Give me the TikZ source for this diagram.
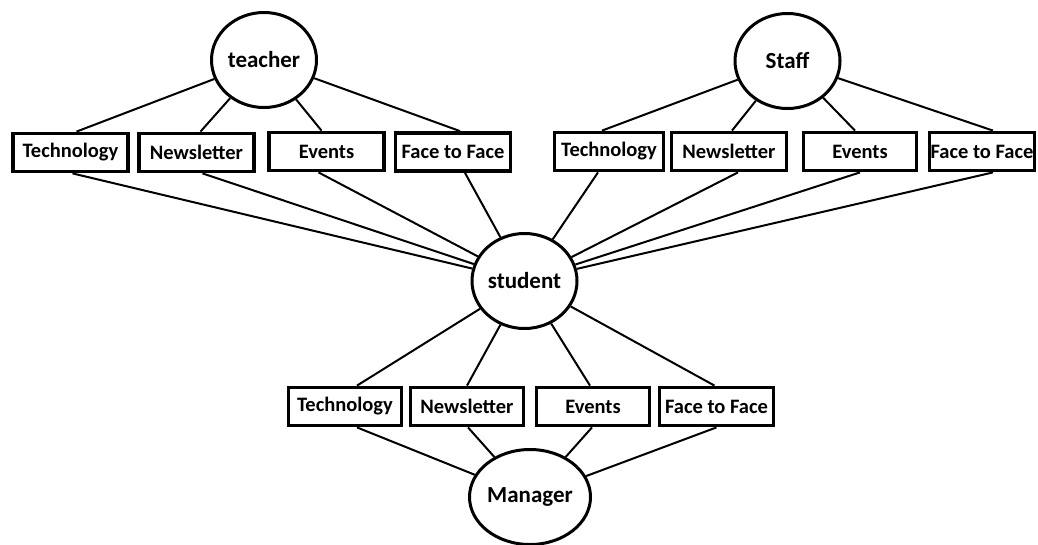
\documentclass[tikz,border=0pt]{standalone}
\usepackage{fontspec}
\setmainfont{Carlito}
\usepackage{tikz}
\usetikzlibrary{shapes.geometric,positioning}
\tikzset{
    %Define style for the people
    role/.style={
           ellipse,
           draw=black, line width=3pt,
           minimum width=105pt,
           minimum height=95pt,
           inner sep=0pt,
           font=\fontsize{23}{26}\selectfont\bfseries,
           text centered},
    %Define style for the channel boxes
    channel/.style={
           rectangle,
           draw=black, line width=3.8pt,
           minimum width=115pt,
           minimum height=38pt,
           inner sep=0pt,
           font=\fontsize{20.5}{24}\selectfont\bfseries,
           text centered},
    % Define connector style
    link/.style={
           -,
           line width=2pt}
}
\begin{document}
\begin{tikzpicture}[x=1pt,y=-1pt]
\useasboundingbox (0,0) rectangle (1038,544);
 %people
\node[role] (teacher) at (264,60) {teacher};
\node[role] (staff) at (787.5,61) {Staff};
\node[role] (student) at (524.5,281) {student};
\node[role] (manager) at (530,497) {Manager};
 %channels of teacher
\node[channel] (tech1) at (70.5,152.5) {Technology};
\node[channel] (news1) at (196.5,152.5) {Newsletter};
\node[channel] (event1) at (326.5,151.5) {Events};
\node[channel] (face1) at (453,152) {Face to Face};
 %channels of staff
\node[channel, minimum width=109pt] (tech2) at (609,151.5) {Technology};
\node[channel] (news2) at (729,151.5) {Newsletter};
\node[channel, minimum width=113pt] (event2) at (860,151.5) {Events};
\node[channel, minimum width=105pt] (face2) at (982,151.5) {Face to Face};
 %channels of manager
\node[channel, minimum width=113pt] (tech3) at (345,406.5) {Technology};
\node[channel, minimum width=113pt] (news3) at (467,406.5) {Newsletter};
\node[channel, minimum width=113pt] (event3) at (593,406.5) {Events};
\node[channel, minimum width=114pt] (face3) at (716.5,406.5) {Face to Face};
 %connectors
\foreach \chan/\dx in {tech1/6, news1/4, event1/-5, face1/7}
    \draw[link] (teacher) -- ([xshift=\dx pt]\chan.north);
\foreach \chan/\dx in {tech2/-7, news2/3, event2/-5, face2/11}
    \draw[link] (staff) -- ([xshift=\dx pt]\chan.north);
\foreach \chan/\dx in {tech1/2, news1/6, event1/-8, face1/12, tech2/-11, news2/9, event2/0, face2/11}
    \draw[link] ([xshift=\dx pt]\chan.south) -- (student);
\foreach \chan/\dx in {tech3/12, news3/0, event3/-3, face3/-2}
    \draw[link] (student) -- ([xshift=\dx pt]\chan.north);
\foreach \chan/\dx in {tech3/12, news3/1, event3/-1, face3/0}
    \draw[link] ([xshift=\dx pt]\chan.south) -- (manager);
\end{tikzpicture}
\end{document}
